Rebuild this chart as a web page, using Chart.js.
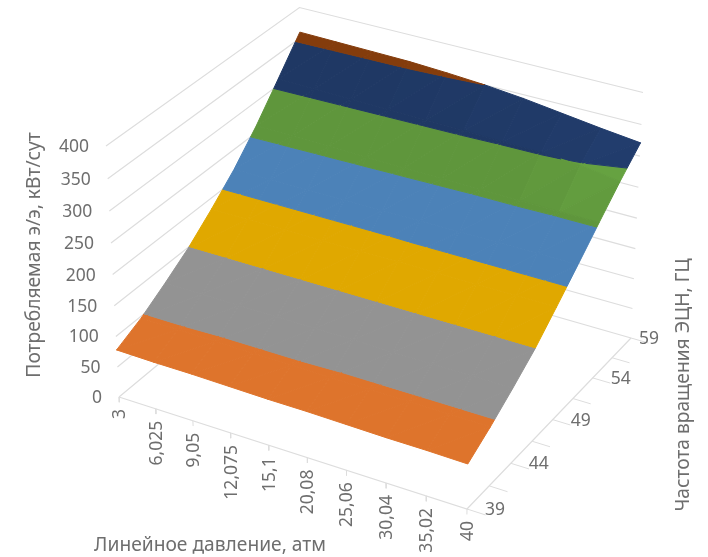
<!DOCTYPE html>
<html>
<head>
<meta charset="utf-8">
<title>Потребляемая э/э</title>
<style>
  html, body { margin: 0; padding: 0; background: #fff; }
  canvas { display: block; }
</style>
<script src="https://cdn.jsdelivr.net/npm/chart.js@4"></script>
</head>
<body>
<canvas id="myChart" width="708" height="557"></canvas>
<script>
'use strict'

var pressureLabels = ['3', '6,025', '9,05', '12,075', '15,1', '20,08', '25,06', '30,04', '35,02', '40']
var freqTicks = [39, 41.5, 44, 46.5, 49, 51.5, 54, 56.5, 59]
var freqLabels = ['39', '', '44', '', '49', '', '54', '', '59']
var powerTicks = [0, 50, 100, 150, 200, 250, 300, 350, 400]

// kWh/day, one row per frequency, one column per pressure
var row39 = [78, 77, 77, 76, 75, 75, 74, 73, 73, 72]
var row41 = [97, 97, 96, 96, 96, 95, 95, 95, 95, 95]
var row44 = [122, 122, 122, 122, 122, 122, 121, 121, 121, 121]
var row46 = [149, 149, 149, 149, 149, 149, 149, 149, 149, 149]
var row49 = [182, 182, 182, 182, 182, 183, 183, 183, 183, 183]
var row51 = [218, 218, 218, 218, 218, 218, 218, 218, 218, 218]
var row54 = [261, 260, 259, 258, 257, 256, 255, 255, 254, 254]
var row56 = [310, 309, 308, 307, 306, 305, 303, 302, 298, 289]
var row59 = [360, 359, 358, 357, 354, 350, 344, 336, 328, 321]
var powerRows = [row39, row41, row44, row46, row49, row51, row54, row56, row59]

var bandColors = ['#4472C4', '#DE742C', '#939393', '#E0A800', '#4C82B8', '#5F963C', '#1F3864', '#843C0C']
var lineColor = '#DDDDDD'
var textColor = '#6E6E6E'
var fontFamily = '"Noto Sans", sans-serif'

// homogeneous projection of the unit box: u along pressure, v along frequency, w along power
var cam = {
  x: [119, 321.72, 211.0, -18.01],
  y: [397, 83.35, -131.26, -257.9],
  d: [1, -0.05628, 0.08911, -0.04728]
}

function project (u, v, w) {
  var d = cam.d[0] + cam.d[1] * u + cam.d[2] * v + cam.d[3] * w
  return {
    x: (cam.x[0] + cam.x[1] * u + cam.x[2] * v + cam.x[3] * w) / d,
    y: (cam.y[0] + cam.y[1] * u + cam.y[2] * v + cam.y[3] * w) / d
  }
}

function gridPoint (col, row) {
  return { u: col / (pressureLabels.length - 1), v: row / (freqTicks.length - 1), z: powerRows[row][col] }
}

function toScreen (p) {
  return project(p.u, p.v, p.z / 400)
}

// keep the part of a polygon on one side of a power level
function clipLevel (poly, level, keepAbove) {
  var out = []
  for (var i = 0; i < poly.length; i++) {
    var a = poly[i]
    var b = poly[(i + 1) % poly.length]
    var aIn = keepAbove ? a.z >= level : a.z <= level
    var bIn = keepAbove ? b.z >= level : b.z <= level
    if (aIn) out.push(a)
    if (aIn !== bIn) {
      var t = (level - a.z) / (b.z - a.z)
      out.push({ u: a.u + (b.u - a.u) * t, v: a.v + (b.v - a.v) * t, z: level })
    }
  }
  return out
}

function shadeColor (hex, f) {
  var n = parseInt(hex.slice(1), 16)
  var r = Math.min(255, Math.round((n >> 16) * f))
  var g = Math.min(255, Math.round(((n >> 8) & 255) * f))
  var b = Math.min(255, Math.round((n & 255) * f))
  return 'rgb(' + r + ',' + g + ',' + b + ')'
}

// cells that lean towards high pressure catch more light, the upper triangle a little more
function cellShade (col, row, upper) {
  var near = powerRows[row][col + 1] - powerRows[row][col]
  var far = powerRows[row + 1][col + 1] - powerRows[row + 1][col]
  var lean = Math.max(0, -(near + far) / 2 - 1.5)
  return 1 + 0.012 * lean + (upper ? 0.008 : 0) * Math.min(lean, 1)
}

function lineDataset (points, width) {
  return {
    data: points,
    borderColor: lineColor,
    borderWidth: width || 1,
    pointRadius: 0,
    fill: false,
    tension: 0
  }
}

var painted = []

// walls and floor marks go in first so the surface hides them
powerTicks.forEach(function (z) {
  var w = z / 400
  painted.push(lineDataset([project(0, 0, w), project(0, 1, w), project(1, 1, w)], 1.2))
})
painted.push(lineDataset([project(0, 0, 0), project(1, 0, 0), project(1, 1, 0)], 1.2))
pressureLabels.forEach(function (label, i) {
  var u = i / (pressureLabels.length - 1)
  painted.push(lineDataset([project(u, 0, 0), project(u, 0, -0.022)]))
})
freqTicks.forEach(function (f, i) {
  var v = i / (freqTicks.length - 1)
  painted.push(lineDataset([project(1, v, 0), project(1.05, v, 0)]))
})

// surface facets split by power band, far rows first
function addFacet (tri, shade) {
  bandColors.forEach(function (color, b) {
    var part = clipLevel(clipLevel(tri, b * 50, true), (b + 1) * 50, false)
    if (part.length < 3) return
    var pts = part.map(toScreen)
    pts.push(pts[0])
    var c = shadeColor(color, shade)
    painted.push({
      data: pts,
      backgroundColor: c,
      borderColor: c,
      borderWidth: 1,
      pointRadius: 0,
      fill: 'shape',
      tension: 0
    })
  })
}

for (var row = freqTicks.length - 2; row >= 0; row--) {
  for (var col = 0; col < pressureLabels.length - 1; col++) {
    var p00 = gridPoint(col, row)
    var p10 = gridPoint(col + 1, row)
    var p01 = gridPoint(col, row + 1)
    var p11 = gridPoint(col + 1, row + 1)
    addFacet([p01, p11, p00], cellShade(col, row, true))
    addFacet([p00, p11, p10], cellShade(col, row, false))
  }
}

var axisText = {
  id: 'axisText',
  afterDraw: function (chart) {
    var ctx = chart.ctx
    var sx = chart.scales.x
    var sy = chart.scales.y
    function put (p, dx, dy, text, align, angle) {
      ctx.save()
      ctx.translate(sx.getPixelForValue(p.x) + dx, sy.getPixelForValue(p.y) + dy)
      ctx.rotate(angle || 0)
      ctx.textAlign = align
      ctx.textBaseline = 'middle'
      ctx.fillText(text, 0, 0)
      ctx.restore()
    }
    ctx.save()
    ctx.fillStyle = textColor
    ctx.font = '17.5px ' + fontFamily
    powerTicks.forEach(function (z) {
      put(project(0, 0, z / 400), -17, 1, String(z), 'right')
    })
    pressureLabels.forEach(function (label, i) {
      put(project(i / (pressureLabels.length - 1), 0, 0), 1, 12, label, 'right', -Math.PI / 2)
    })
    freqLabels.forEach(function (label, i) {
      if (!label) return
      var gap = i === freqLabels.length - 1 ? 8 : 18
      put(project(1, i / (freqLabels.length - 1), 0), gap, 1, label, 'left')
    })
    ctx.font = '19.2px ' + fontFamily
    put({ x: 35, y: 255 }, 0, 0, 'Потребляемая э/э, кВт/сут', 'center', -Math.PI / 2)
    put({ x: 684, y: 385 }, 0, 0, 'Частота вращения ЭЦН, ГЦ', 'center', -Math.PI / 2)
    put({ x: 210, y: 546 }, 0, 0, 'Линейное давление, атм', 'center')
    ctx.restore()
  }
}

new Chart(document.getElementById('myChart'), {
  type: 'line',
  data: { datasets: painted.slice().reverse() },
  options: {
    responsive: false,
    animation: false,
    events: [],
    layout: { padding: 0 },
    plugins: {
      legend: { display: false },
      title: { display: false },
      tooltip: { enabled: false }
    },
    scales: {
      x: { type: 'linear', min: 0, max: 708, display: false },
      y: { type: 'linear', min: 0, max: 557, reverse: true, display: false }
    }
  },
  plugins: [axisText]
})
</script>
</body>
</html>
